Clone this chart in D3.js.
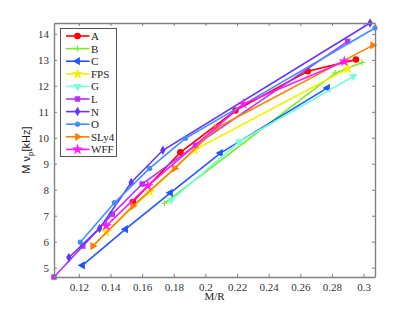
<!DOCTYPE html>
<html>
<head>
<meta charset="utf-8">
<script src="https://cdn.jsdelivr.net/npm/d3@7"></script>
<style>
  body { margin: 0; background: #fff; }
</style>
</head>
<body>
<script>
// canvas
var width = 415;
var height = 312;
const margin = {left: 54, right: 40, top: 23, bottom: 35};
const innerWidth = width - margin.left - margin.right;
const innerHeight = height - margin.top - margin.bottom;
const serif = "Liberation Serif, Times New Roman, DejaVu Serif, serif";

// data: M/R (x) and M*nu_p in kHz (y), one pair of arrays per EOS
var names = ["A", "B", "C", "FPS", "G", "L", "N", "O", "SLy4", "WFF"];
var colors = ["#ff0000", "#77ee22", "#2255ff", "#f2f200", "#77ffdd", "#b033ff", "#6633ff", "#3f8fff", "#ff8000", "#ff1aff"];
var shapes = ["circle", "plus", "triLeft", "star", "triDown", "square", "diamond", "dot", "triRight", "star"];

var A_x = [0.1541, 0.1842, 0.2190, 0.2647, 0.2952];
var A_y = [7.53, 9.44, 11.05, 12.56, 13.01];
var B_x = [0.1741, 0.2821, 0.2990];
var B_y = [7.48, 12.49, 12.90];
var C_x = [0.1223, 0.1495, 0.1779, 0.2095, 0.2771];
var C_y = [5.09, 6.48, 7.88, 9.41, 11.92];
var FPS_x = [0.1373, 0.1647, 0.1931, 0.2899];
var FPS_y = [6.37, 7.92, 9.53, 12.66];
var G_x = [0.1784, 0.2215, 0.2935];
var G_y = [7.60, 9.85, 12.36];
var L_x = [0.1043, 0.1225, 0.1411, 0.1600, 0.1937, 0.2899];
var L_y = [4.64, 5.83, 7.06, 8.22, 9.71, 13.71];
var N_x = [0.1137, 0.1331, 0.1531, 0.1731, 0.3041];
var N_y = [5.39, 6.51, 8.28, 9.52, 14.42];
var O_x = [0.1209, 0.1425, 0.1647, 0.1874, 0.3072];
var O_y = [5.98, 7.50, 8.82, 9.98, 14.23];
var SLy4_x = [0.1288, 0.1541, 0.1805, 0.2068, 0.3057];
var SLy4_y = [5.83, 7.37, 8.82, 10.37, 13.56];
var WFF_x = [0.1373, 0.1636, 0.2240, 0.2878];
var WFF_y = [6.61, 8.15, 11.30, 12.94];

var xTicks = [0.12, 0.14, 0.16, 0.18, 0.2, 0.22, 0.24, 0.26, 0.28, 0.3];
var yTicks = [5, 6, 7, 8, 9, 10, 11, 12, 13, 14];

var xs = [A_x, B_x, C_x, FPS_x, G_x, L_x, N_x, O_x, SLy4_x, WFF_x];
var ys = [A_y, B_y, C_y, FPS_y, G_y, L_y, N_y, O_y, SLy4_y, WFF_y];
var series = names.map((n, i) => ({
  name: n, color: colors[i], shape: shapes[i],
  pts: xs[i].map((x, j) => [x, ys[i][j]])
}));

var svg = d3.select("body").append("svg")
  .attr("width", width)
  .attr("height", height)
  .attr("font-family", serif);

// axis tight to the data
var xScale = d3.scaleLinear()
  .domain(d3.extent(d3.merge(xs)))
  .range([0, innerWidth]);
var yScale = d3.scaleLinear()
  .domain(d3.extent(d3.merge(ys)))
  .range([innerHeight, 0]);

const g = svg.append("g").attr("transform", `translate(${margin.left},${margin.top})`);

// markers
function marker(sel, shape, color) {
  if (shape == "circle") {
    sel.append("circle").attr("r", 3.3).attr("fill", color);
  } else if (shape == "dot") {
    sel.append("circle").attr("r", 2.6).attr("fill", color);
  } else if (shape == "plus") {
    sel.append("path").attr("d", "M-3,0H3M0,-3V3").attr("stroke", color).attr("stroke-width", 1.2);
  } else {
    var t = {triLeft: d3.symbolTriangle, triRight: d3.symbolTriangle, triDown: d3.symbolTriangle,
             star: d3.symbolStar, square: d3.symbolSquare, diamond: d3.symbolDiamond}[shape];
    var rot = {triLeft: -90, triRight: 90, triDown: 180}[shape] || 0;
    var size = {star: 40, square: 30, diamond: 26}[shape] || 30;
    sel.append("path").attr("d", d3.symbol(t, size)())
      .attr("transform", `rotate(${rot})`)
      .attr("fill", color);
  }
}

var line = d3.line().x(d => xScale(d[0])).y(d => yScale(d[1]));

series.forEach(function (s) {
  var sg = g.append("g");
  sg.append("path").attr("d", line(s.pts))
    .attr("fill", "none").attr("stroke", s.color).attr("stroke-width", 1.6);
  s.pts.forEach(function (p) {
    var m = sg.append("g").attr("transform", `translate(${xScale(p[0])},${yScale(p[1])})`);
    marker(m, s.shape, s.color);
  });
});

// axes, ticks pointing inward on all four sides
var axisColor = "#808080";
var gx = g.append("g").attr("transform", `translate(0,${innerHeight})`)
  .call(d3.axisBottom(xScale).tickValues(xTicks).tickSizeInner(-3).tickSizeOuter(0).tickPadding(6).tickFormat(d3.format("")));
var gxt = g.append("g")
  .call(d3.axisTop(xScale).tickValues(xTicks).tickSizeInner(-3).tickSizeOuter(0).tickFormat(""));
var gy = g.append("g")
  .call(d3.axisLeft(yScale).tickValues(yTicks).tickSizeInner(-3).tickSizeOuter(0).tickPadding(5));
var gyr = g.append("g").attr("transform", `translate(${innerWidth},0)`)
  .call(d3.axisRight(yScale).tickValues(yTicks).tickSizeInner(-3).tickSizeOuter(0).tickFormat(""));

[gx, gxt, gy, gyr].forEach(function (a) {
  a.attr("font-family", serif).attr("font-size", 11);
  a.select(".domain").attr("stroke", axisColor).attr("stroke-width", 1.4);
  a.selectAll(".tick line").attr("stroke", axisColor);
  a.selectAll(".tick text").attr("fill", "#333");
});

// axis labels
svg.append("text")
  .attr("x", margin.left + innerWidth / 2)
  .attr("y", 300)
  .attr("text-anchor", "middle")
  .attr("font-size", 11)
  .attr("fill", "#222")
  .text("M/R");

var yl = svg.append("text")
  .attr("transform", "translate(30,150) rotate(-90)")
  .attr("text-anchor", "middle")
  .attr("font-size", 11)
  .attr("font-family", "Liberation Sans, Arial, sans-serif")
  .attr("fill", "#222");
yl.append("tspan").text("M \u03bd");
yl.append("tspan").attr("dy", 3).attr("font-size", 8).text("p");
yl.append("tspan").attr("dy", -3).text("[kHz]");

// legend
var lg = svg.append("g").attr("transform", "translate(60.5,28.5)");
lg.append("rect").attr("width", 56).attr("height", 128)
  .attr("fill", "#fff").attr("stroke", "#555").attr("stroke-width", 1);
series.forEach(function (s, i) {
  var row = lg.append("g").attr("transform", `translate(0,${7.5 + i * 12.6})`);
  row.append("line").attr("x1", 5.5).attr("x2", 29).attr("stroke", s.color).attr("stroke-width", 1.6);
  var m = row.append("g").attr("transform", "translate(17,0)");
  marker(m, s.shape, s.color);
  row.append("text").attr("x", 30.5).attr("y", 4)
    .attr("font-size", 11).attr("fill", "#222").text(s.name);
});
</script>
</body>
</html>
